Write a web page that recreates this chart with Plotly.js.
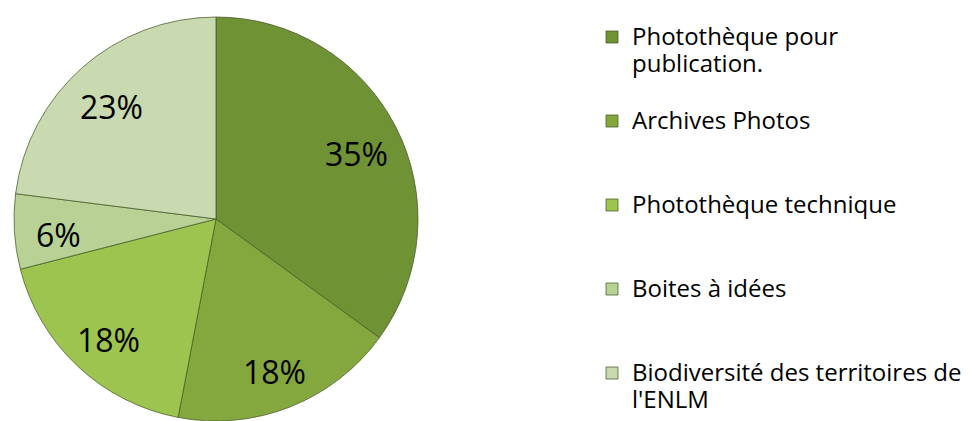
<!DOCTYPE html>
<html>
<head>
<meta charset="utf-8">
<script src="https://cdn.plot.ly/plotly-3.0.1.min.js"></script>
<style>html,body{margin:0;padding:0;background:#fff;}#chart{width:969px;height:421px;}</style>
</head>
<body>
<div id="chart"></div>
<script>
// ---- data ----
const categories = [
  ["Photothèque pour", "publication."],
  ["Archives Photos"],
  ["Photothèque technique"],
  ["Boites à idées"],
  ["Biodiversité des territoires de", "l'ENLM"]
];
const values = [35, 18, 18, 6, 23];
const colors = ["#6F9234", "#84A83E", "#9CC44E", "#B8D296", "#C9D9B0"];

// ---- layout helpers ----
const W = 969, H = 421;
const domX = [14 / W, 418 / W];
const domY = [0, (H - 17) / H];
const legendGlyph = 24;        // glyph size of legend text
const legendLine = 27 / 1.3;   // legend font size (drives line spacing)

function legendLabel(lines, i, arr) {
  const rows = lines.slice();
  if (i < arr.length - 1) { while (rows.length < 3) rows.push("\u00a0"); }
  return rows.map(t => "<span style='font-size:" + legendGlyph + "px'>" + t + "</span>").join("<br>");
}
const labels = categories.map(legendLabel);

const total = values.reduce((a, b) => a + b, 0);
const cx = (domX[0] + domX[1]) / 2, cy = (domY[0] + domY[1]) / 2;
const rPx = Math.min((domX[1] - domX[0]) * W, (domY[1] - domY[0]) * H) / 2;
const kR = 0.78;
let cum = 0;
const annotations = values.map(v => {
  const mid = (cum + v / 2) / total * 2 * Math.PI;
  cum += v;
  return {
    xref: "paper", yref: "paper",
    x: cx + kR * rPx * Math.sin(mid) / W,
    y: cy + kR * rPx * Math.cos(mid) / H,
    yshift: -6,
    text: Math.round(v / total * 100) + "%",
    showarrow: false,
    xanchor: "center", yanchor: "middle",
    font: {family: "Open Sans, sans-serif", size: 32, color: "#000"}
  };
});

const trace = {
  type: "pie",
  labels: labels,
  values: values,
  sort: false,
  direction: "clockwise",
  rotation: 0,
  textinfo: "none",
  hoverinfo: "label+percent",
  marker: {colors: colors, line: {color: "rgba(70,90,40,0.75)", width: 1}},
  domain: {x: domX, y: domY}
};

const layout = {
  width: W, height: H,
  margin: {l: 0, r: 0, t: 0, b: 0},
  paper_bgcolor: "#fff",
  plot_bgcolor: "#fff",
  showlegend: true,
  legend: {
    x: 592 / W, xanchor: "left",
    y: 1 - 19 / H, yanchor: "top",
    valign: "top",
    font: {family: "Open Sans, sans-serif", size: legendLine, color: "#000"},
    bgcolor: "rgba(0,0,0,0)"
  },
  annotations: annotations
};

Plotly.newPlot("chart", [trace], layout, {displayModeBar: false, staticPlot: true});
</script>
</body>
</html>
